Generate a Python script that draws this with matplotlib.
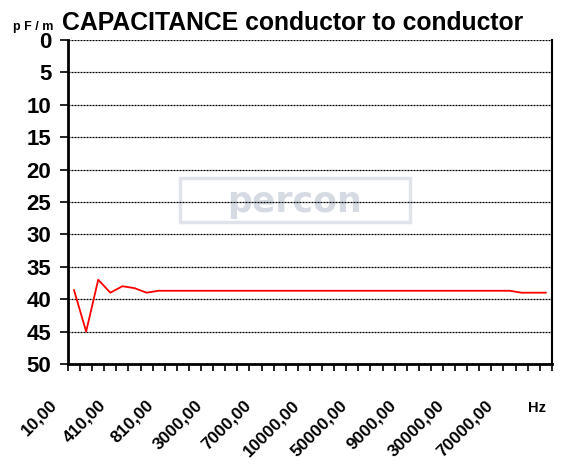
import matplotlib
matplotlib.use("Agg")
import matplotlib.pyplot as plt
import matplotlib.transforms as mtransforms
from matplotlib.patches import Rectangle

# capacitance per frequency point (40 points on the category axis)
capacitance = [38.6, 45.0, 37.0, 39.0, 38.0, 38.3, 39.0, 38.7, 38.7, 38.7,
               38.7, 38.7, 38.7, 38.7, 38.7, 38.7, 38.7, 38.7, 38.7, 38.7,
               38.7, 38.7, 38.7, 38.7, 38.7, 38.7, 38.7, 38.7, 38.7, 38.7,
               38.7, 38.7, 38.7, 38.7, 38.7, 38.7, 38.7, 39.0, 39.0, 39.0]
freq_labels = ["10,00", "410,00", "810,00", "3000,00", "7000,00",
               "10000,00", "50000,00", "9000,00", "30000,00", "70000,00"]
label_step = 4
y_ticks = [0, 5, 10, 15, 20, 25, 30, 35, 40, 45, 50]

plt.rcParams['font.family'] = ['Liberation Sans', 'DejaVu Sans']
plt.rcParams['font.weight'] = 'bold'

fig = plt.figure(figsize=(5.83, 4.71), dpi=100)
ax = fig.add_axes([0.1166, 0.2272, 0.830, 0.688])

n = len(capacitance)
ax.plot(range(n), capacitance, color='red', lw=1.3, zorder=3)

ax.set_xlim(-0.5, n - 0.5)
ax.set_ylim(50, 0)
ax.set_yticks(y_ticks)
ax.set_yticklabels([str(v) for v in y_ticks], fontsize=16, fontweight='bold')
ax.yaxis.grid(True, color='black', linestyle=(0, (1.6, 0.8)), lw=0.9)

# major ticks on category boundaries, labels on minor ticks
ax.set_xticks([i - 0.5 for i in range(n + 1)])
ax.set_xticklabels([])
ax.tick_params(axis='x', which='major', direction='out', length=5, width=1.2)
ax.set_xticks(list(range(0, n, label_step)), minor=True)
ax.set_xticklabels(freq_labels, minor=True, rotation=45, ha='right', va='top',
                   fontsize=12.5, fontweight='bold')
ax.tick_params(axis='x', which='minor', length=0, pad=24)
offset = mtransforms.ScaledTranslation(-0.14, 0, fig.dpi_scale_trans)
for lab in ax.xaxis.get_minorticklabels():
    lab.set_transform(lab.get_transform() + offset)

ax.tick_params(axis='y', direction='out', length=6, width=1.2, pad=6)

ax.spines['top'].set_visible(False)
ax.spines['left'].set_linewidth(2)
ax.spines['bottom'].set_linewidth(2)
ax.spines['right'].set_linewidth(1.5)

# watermark
ax.add_patch(Rectangle((0.231, 0.438), 0.475, 0.136, transform=ax.transAxes,
                       fc='none', ec='#e0e4ea', lw=2.5, zorder=1))
ax.text(0.469, 0.50, "percon", transform=ax.transAxes, ha='center', va='center',
        fontsize=25, fontweight='bold', color='#d6dbe3', zorder=1,
        family='DejaVu Sans')

fig.text(0.106, 0.937, "CAPACITANCE conductor to conductor", fontsize=17.8,
         fontweight='bold', va='baseline', ha='left')
fig.text(0.022, 0.937, "p F / m", fontsize=9, fontweight='bold', va='baseline', ha='left')
fig.text(0.905, 0.125, "Hz", fontsize=10.5, fontweight='bold', va='baseline', ha='left')

fig.savefig("out.png", dpi=100)
